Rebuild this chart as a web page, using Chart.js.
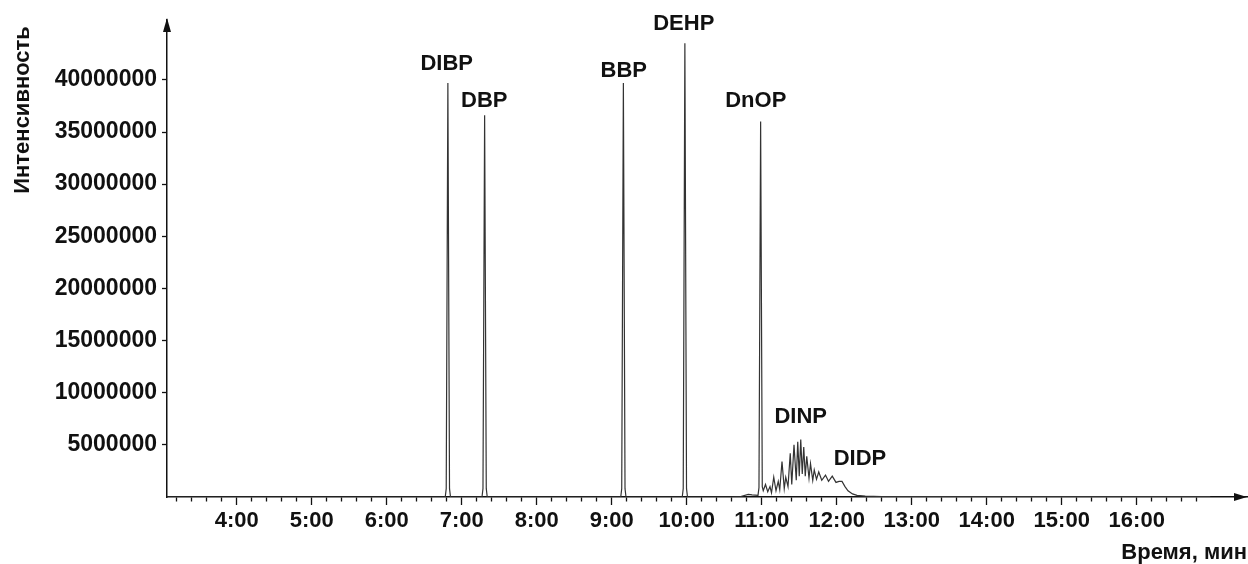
<!DOCTYPE html>
<html>
<head>
<meta charset="utf-8">
<title>Хроматограмма фталатов</title>
<script src="https://cdn.jsdelivr.net/npm/chart.js@4.4.1/dist/chart.umd.min.js"></script>
<style>
  html, body { margin: 0; padding: 0; background: #fff; }
  #wrap { width: 1248px; height: 564px; }
</style>
</head>
<body>
<div id="wrap"><canvas id="chromatogram" width="1248" height="564"></canvas></div>
<script>
// retention time (min) and intensity of the trace
const traceTimes = [
  3.07, 6.78, 6.793, 6.815, 6.837, 6.85,
  7.27, 7.283, 7.305, 7.327, 7.34,
  9.12, 9.133, 9.155, 9.177, 9.19,
  9.94, 9.953, 9.975, 9.997, 10.01,
  10.60, 10.72, 10.82, 10.87, 10.95, 10.963, 10.985, 11.007, 11.02,
  11.05, 11.08, 11.11, 11.13, 11.16, 11.19, 11.22, 11.24, 11.27, 11.30,
  11.32, 11.35, 11.38, 11.40, 11.43, 11.46, 11.48, 11.50, 11.52, 11.54,
  11.56, 11.58, 11.60, 11.63, 11.65, 11.68, 11.70, 11.73, 11.76, 11.80,
  11.85, 11.89, 11.94, 11.99, 12.03, 12.07, 12.11, 12.15, 12.21, 12.27,
  12.38, 12.60, 14.00, 16.98
];
const traceValues = [
  0, 0, 800000, 39700000, 800000, 0,
  0, 800000, 36600000, 800000, 0,
  0, 800000, 39700000, 800000, 0,
  0, 800000, 43500000, 800000, 0,
  0, 50000, 250000, 200000, 150000, 900000, 36000000, 1000000, 600000,
  1200000, 500000, 1000000, 400000, 1900000, 600000, 1500000, 700000, 3400000, 800000,
  1900000, 1000000, 4200000, 1200000, 5000000, 1600000, 5300000, 2000000, 5500000, 2200000,
  4800000, 2000000, 3900000, 1800000, 3200000, 1600000, 2600000, 1700000, 2400000, 1600000,
  2100000, 1500000, 2000000, 1400000, 1500000, 1500000, 1000000, 600000, 300000, 150000,
  80000, 50000, 30000, 30000
];

// compound names and where their text sits (bottom centre, in data units)
const peakNames = ['DIBP', 'DBP', 'BBP', 'DEHP', 'DnOP', 'DINP', 'DIDP'];
const nameTimes = [6.80, 7.30, 9.16, 9.96, 10.92, 11.52, 12.31];
const nameValues = [40900000, 37400000, 40300000, 44800000, 37400000, 7100000, 3100000];

const xTickMinutes = [4, 5, 6, 7, 8, 9, 10, 11, 12, 13, 14, 15, 16];
const xTickLabels = ['4:00', '5:00', '6:00', '7:00', '8:00', '9:00', '10:00', '11:00', '12:00', '13:00', '14:00', '15:00', '16:00'];
const yTickValues = [5000000, 10000000, 15000000, 20000000, 25000000, 30000000, 35000000, 40000000];

const FONT = "'Liberation Sans', Arial, sans-serif";
const INK = '#111';

function majorIndex(v) {
  return xTickMinutes.findIndex(m => Math.abs(m - v) < 1e-6);
}

// peak names drawn at their data positions
const peakNamePlugin = {
  id: 'peakNames',
  afterDatasetsDraw(chart) {
    const {ctx, scales} = chart;
    ctx.save();
    ctx.font = 'bold 22px ' + FONT;
    ctx.fillStyle = INK;
    ctx.textAlign = 'center';
    ctx.textBaseline = 'alphabetic';
    peakNames.forEach((name, i) => {
      ctx.fillText(name, scales.x.getPixelForValue(nameTimes[i]), scales.y.getPixelForValue(nameValues[i]));
    });
    ctx.restore();
  }
};

// arrow heads at the ends of both axes
const axisArrows = {
  id: 'axisArrows',
  afterDraw(chart) {
    const {ctx, chartArea} = chart;
    ctx.save();
    ctx.fillStyle = INK;
    ctx.beginPath();
    ctx.moveTo(chartArea.left, chartArea.top - 2);
    ctx.lineTo(chartArea.left - 4, chartArea.top + 12);
    ctx.lineTo(chartArea.left + 4, chartArea.top + 12);
    ctx.closePath();
    ctx.fill();
    ctx.beginPath();
    ctx.moveTo(chartArea.right, chartArea.bottom);
    ctx.lineTo(chartArea.right - 13, chartArea.bottom - 4);
    ctx.lineTo(chartArea.right - 13, chartArea.bottom + 4);
    ctx.closePath();
    ctx.fill();
    ctx.restore();
  }
};

new Chart(document.getElementById('chromatogram'), {
  type: 'line',
  data: {
    datasets: [{
      data: traceTimes.map((t, i) => ({x: t, y: traceValues[i]})),
      borderColor: '#333',
      borderWidth: 1.2,
      pointRadius: 0,
      tension: 0,
      fill: false
    }]
  },
  options: {
    responsive: false,
    animation: false,
    devicePixelRatio: 1,
    layout: {padding: {top: 20, right: 1, left: 0, bottom: 0}},
    plugins: {legend: {display: false}, tooltip: {enabled: false}},
    scales: {
      x: {
        type: 'linear',
        min: 3.07,
        max: 17.47,
        afterFit(scale) { scale.height = 67; },
        // minor ticks every 12 s from 3:12 to 16:48
        afterBuildTicks(scale) {
          const ticks = [];
          for (let k = 16; k <= 84; k++) ticks.push({value: k / 5});
          scale.ticks = ticks;
        },
        border: {display: true, color: INK, width: 1.5},
        grid: {
          drawOnChartArea: false,
          drawTicks: true,
          tickLength: 8,
          tickWidth: 1.3,
          tickColor: INK,
          tickBorderDash: c => (c.tick && majorIndex(c.tick.value) >= 0) ? [] : [4, 30]
        },
        ticks: {
          autoSkip: false,
          maxRotation: 0,
          padding: 3,
          color: INK,
          font: {family: FONT, size: 22, weight: 'bold'},
          callback: v => {
            const k = majorIndex(v);
            return k >= 0 ? xTickLabels[k] : '';
          }
        },
        title: {
          display: true,
          text: 'Время, мин',
          align: 'end',
          color: INK,
          padding: {top: 0, bottom: 0},
          font: {family: FONT, size: 22, weight: 'bold', lineHeight: 1.0}
        }
      },
      y: {
        min: 0,
        max: 45740000,
        afterFit(scale) { scale.width = 167; },
        afterBuildTicks(scale) {
          scale.ticks = yTickValues.map(v => ({value: v}));
        },
        border: {display: true, color: INK, width: 1.5},
        grid: {
          drawOnChartArea: false,
          drawTicks: true,
          tickLength: 5,
          tickWidth: 1.3,
          tickColor: INK
        },
        ticks: {
          padding: 5,
          color: INK,
          font: {family: FONT, size: 23, weight: 'bold'},
          callback: v => String(v)
        },
        title: {
          display: true,
          text: 'Интенсивность ',
          align: 'end',
          color: INK,
          padding: {top: 10, bottom: 0},
          font: {family: FONT, size: 22, weight: 'bold'}
        }
      }
    }
  },
  plugins: [peakNamePlugin, axisArrows]
});
</script>
</body>
</html>
